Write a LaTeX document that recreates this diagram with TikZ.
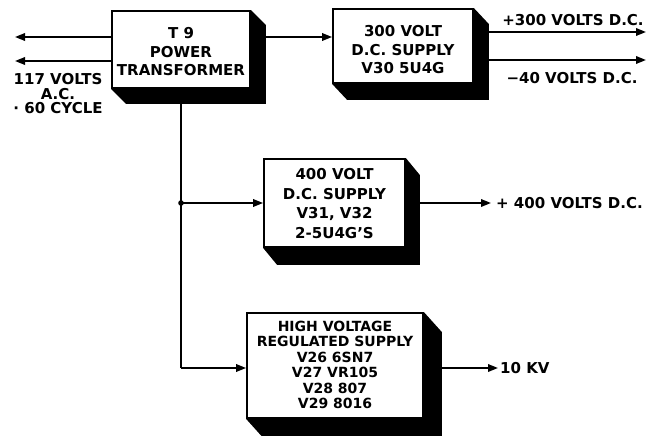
\documentclass[tikz,border=0pt]{standalone}
\usepackage{fontspec}
\setmainfont{DejaVu Sans}
\usetikzlibrary{arrows.meta,calc}
\begin{document}
\begin{tikzpicture}[x=1pt,y=-1pt,
  lw/.style={line width=1.8pt},
  blk/.style={draw,lw,fill=white,inner sep=0pt},
  txt/.style={inner sep=0pt,align=center,
    font=\fontsize{15}{18.5}\selectfont\bfseries},
  lbl/.style={inner sep=0pt,align=center,
    font=\fontsize{15}{14.5}\selectfont\bfseries},
  arr/.style={lw,-{Triangle[length=10pt,width=7.5pt]}},
  conn/.style={lw}]
\useasboundingbox (0,0) rectangle (649,436);

\newcommand{\shadowbox}[3]{%
  \fill[black] (#1.north east) -- ($(#1.north east)+(#2,#3)$) -- ($(#1.south east)+(#2,#3)$)
    -- ($(#1.south west)+(#2,#3)$) -- (#1.south west) -- (#1.south east) -- cycle;}

% blocks
\node[blk,minimum width=138pt,minimum height=77pt] (t9) at (181,49.5) {};
\node[txt] (t9t) at (181,52) {T 9\\POWER\\TRANSFORMER};
\node[blk,minimum width=140pt,minimum height=74pt] (s300) at (403,46) {};
\node[txt] (s300t) at (403,50) {300 VOLT\\D.C. SUPPLY\\V30 5U4G};
\node[blk,minimum width=141pt,minimum height=88pt] (s400) at (334.5,203) {};
\node[txt,font=\fontsize{15}{19.5}\selectfont\bfseries] (s400t) at (334.5,203.5)
  {400 VOLT\\D.C. SUPPLY\\V31, V32\\2-5U4G'S};
\node[blk,minimum width=176pt,minimum height=105pt] (hv) at (335,365.5) {};
\node[txt,font=\fontsize{14}{15.5}\selectfont\bfseries] (hvt) at (335,365)
  {HIGH VOLTAGE\\REGULATED SUPPLY\\V26 6SN7\\V27 VR105\\V28 807\\V29 8016};

\shadowbox{t9}{15}{15}
\shadowbox{s300}{15}{16}
\shadowbox{s400}{14}{17}
\shadowbox{hv}{18}{20}

% free ends
\coordinate (inA) at (15,37);
\coordinate (inB) at (15,61);
\coordinate (o300) at (646,32);
\coordinate (o40) at (646,60);
\coordinate (o400) at (491,203);
\coordinate (okv) at (498,368);
\coordinate (jn) at (181,203);
\coordinate (bend) at (181,368);
\coordinate (t9bot) at (181,103);

% connectors
\draw[arr] (t9.west |- inA) -- (inA);
\draw[arr] (t9.west |- inB) -- (inB);
\draw[arr] (t9.east |- inA) -- (s300.west |- inA);
\draw[arr] ($(s300.east |- o300)+(15,0)$) -- (o300);
\draw[arr] ($(s300.east |- o40)+(15,0)$) -- (o40);
\draw[conn] (t9bot) -- (bend);
\draw[arr] (jn) -- (s400.west |- jn);
\draw[arr] (bend) -- (hv.west |- bend);
\fill (jn) circle (2.8pt);
\draw[arr] ($(s400.east |- o400)+(14,0)$) -- (o400);
\draw[arr] ($(hv.east |- okv)+(18,0)$) -- (okv);

% labels
\node[lbl] (lin) at (58,94) {117 VOLTS\\A.C.\\· 60 CYCLE};
\node[lbl] (l300) at (573,20) {+300 VOLTS D.C.};
\node[lbl] (l40) at (572,78) {−40 VOLTS D.C.};
\node[lbl,anchor=west] (l400) at (496,203) {+ 400 VOLTS D.C.};
\node[lbl,anchor=west] (lkv) at (500,368) {10 KV};
\end{tikzpicture}
\end{document}
